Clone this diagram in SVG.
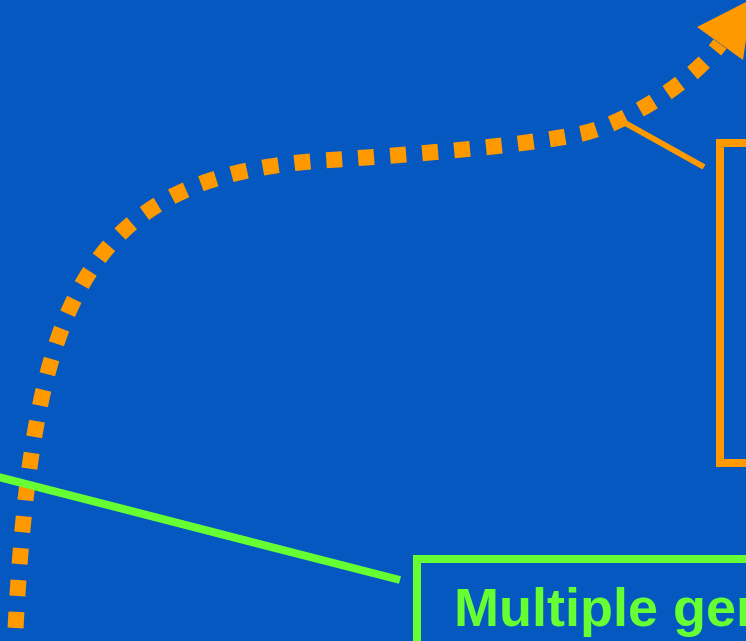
<svg xmlns="http://www.w3.org/2000/svg" width="746" height="641" viewBox="0 0 746 641">
  <style>
    .bg { fill: #0458BF; }
    .flow { fill: none; stroke: #FF9900; stroke-width: 16; stroke-dasharray: 16 16; }
    .head { fill: #FF9900; }
    .call-o { stroke: #FF9900; stroke-width: 6; fill: none; }
    .call-g { stroke: #66FF33; stroke-width: 8; fill: none; }
    .box-o { fill: none; stroke: #FF9900; stroke-width: 8; }
    .box-g { fill: none; stroke: #66FF33; stroke-width: 8; }
    .label-g { fill: #66FF33; font-family: "Liberation Sans", Arial, sans-serif; font-weight: bold; font-size: 54px; }
  </style>
  <rect class="bg" x="0" y="0" width="746" height="641"/>
  <g id="connectors">
    <path class="flow" d="M 14 660 C 30 300, 80 175, 330 160 C 420 154, 520 146, 580 134 C 620 126, 690 85, 720 44"/>
    <polygon class="head" points="697,27 743,60 752,-1"/>
    <line class="call-o" x1="618" y1="119" x2="704" y2="167"/>
    <line class="call-g" x1="-5" y1="476" x2="400" y2="580"/>
  </g>
  <g id="node-orange">
    <rect class="box-o" x="720" y="143" width="200" height="320"/>
  </g>
  <g id="node-green">
    <rect class="box-g" x="417" y="559" width="400" height="200"/>
    <text class="label-g" x="454" y="626">Multiple gen</text>
  </g>
</svg>
